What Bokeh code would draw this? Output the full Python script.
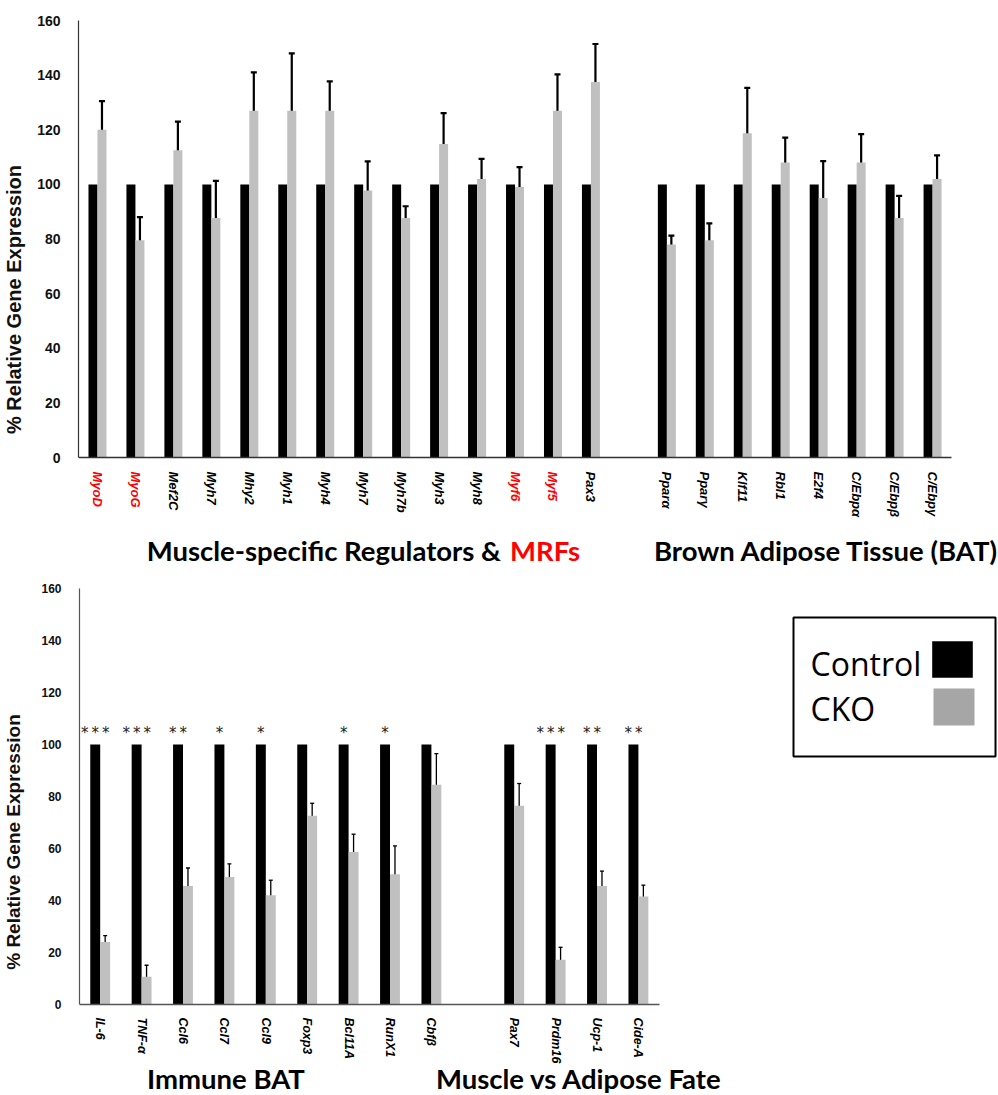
import math
from bokeh.plotting import figure
from bokeh.models import (Range1d, ColumnDataSource, Whisker, TeeHead, FixedTicker, LinearAxis)
from bokeh.layouts import column, row
from bokeh.embed import file_html
from bokeh.resources import INLINE
from bokeh.core.properties import value

# ---------------- data ----------------
y_ticks = [0, 20, 40, 60, 80, 100, 120, 140, 160]

muscle_genes = ["MyoD", "MyoG", "Mef2C", "Myh7", "Mhy2", "Myh1", "Myh4", "Myh7", "Myh7b",
                "Myh3", "Myh8", "Myf6", "Myf5", "Pax3"]
muscle_red = ["MyoD", "MyoG", "Myf6", "Myf5"]
muscle_control = [100] * 14
muscle_cko = [120, 79.5, 112.5, 87.7, 127, 127, 127, 97.8, 87.7, 114.8, 102, 99, 127, 137.5]
muscle_hi = [130.5, 88, 123, 101.3, 141, 148, 137.7, 108.4, 92, 126.1, 109.3, 106.3, 140.3, 151.4]
muscle_lo = [109, 70.6, 102, 73.9, 113.7, 106.2, 117.1, 87.7, 83.4, 103.4, 94.8, 92, 114.3, 124]

bat_genes = ["Ppar\u03b1", "Ppar\u03b3", "Klf11", "Rbl1", "E2f4", "C/Ebp\u03b1", "C/Ebp\u03b2", "C/Ebp\u03b3"]
bat_control = [100] * 8
bat_cko = [78, 79.5, 118.7, 108, 95, 108, 87.7, 102]
bat_hi = [81.2, 85.7, 135.3, 117.1, 108.5, 118.4, 95.8, 110.6]
bat_lo = [75, 72.5, 102, 100, 81.3, 97.5, 79.5, 93.8]

immune_genes = ["IL-6", "TNF-\u03b1", "Ccl6", "Ccl7", "Ccl9", "Foxp3", "Bcl11A", "RunX1", "Cbf\u03b2"]
immune_control = [100] * 9
immune_cko = [24, 10.7, 45.6, 49, 42, 72.6, 58.7, 50.1, 84.5]
immune_hi = [26.5, 15.1, 52.5, 54.1, 47.8, 77.4, 65.5, 61, 96.5]
immune_lo = [21.6, 6.1, 39.1, 43.7, 36.8, 68, 52, 39, 72.5]
immune_sig = ["***", "***", "**", "*", "*", "", "*", "*", ""]

fate_genes = ["Pax7", "Prdm16", "Ucp-1", "Cide-A"]
fate_control = [100] * 4
fate_cko = [76.4, 17.2, 45.6, 41.5]
fate_hi = [85, 22, 51.3, 45.9]
fate_lo = [67.6, 12.7, 40.2, 36.8]
fate_sig = ["", "***", "**", "**"]

series_names = ["Control", "CKO"]
y_title = "% Relative Gene Expression"

BLACK = "#000000"
GRAY = "#c0c0c0"
LEG_GRAY = "#a6a6a6"


def base_chart(width, height, left, top, x_end, y_start, tick_size, axis_color, title_size,
               title_standoff):
    p = figure(width=width, height=height, x_range=Range1d(0, x_end), y_range=Range1d(y_start, 160),
               output_backend="svg", toolbar_location=None, x_axis_location=None,
               min_border_left=left, min_border_right=0, min_border_top=top, min_border_bottom=0)
    p.outline_line_color = None
    p.grid.visible = False
    p.yaxis.bounds = (0, 160)
    p.yaxis.ticker = FixedTicker(ticks=y_ticks)
    p.yaxis.major_tick_line_color = None
    p.yaxis.minor_tick_line_color = None
    p.yaxis.axis_line_color = axis_color
    p.yaxis.axis_line_width = 1.2
    p.yaxis.major_label_text_font = "Liberation Sans"
    p.yaxis.major_label_text_font_style = "bold"
    p.yaxis.major_label_text_font_size = tick_size
    p.yaxis.major_label_text_color = "#111111"
    p.yaxis.major_label_standoff = 12
    p.yaxis.axis_label = y_title
    p.yaxis.axis_label_text_font = "Liberation Sans"
    p.yaxis.axis_label_text_font_style = "bold"
    p.yaxis.axis_label_text_font_size = title_size
    p.yaxis.axis_label_text_color = "#111111"
    p.yaxis.axis_label_standoff = title_standoff
    return p


def category_axis(p, ticks, names, color, n_slots, line_color, size, standoff):
    ax = LinearAxis(fixed_location=0, bounds=(0, n_slots),
                    ticker=FixedTicker(ticks=ticks, minor_ticks=[]),
                    major_label_overrides={t: n for t, n in zip(ticks, names)},
                    major_label_orientation="vertical",
                    major_tick_line_color=None, minor_tick_line_color=None,
                    axis_line_color=line_color, axis_line_width=1.5,
                    major_label_text_font="Liberation Sans",
                    major_label_text_font_style="bold italic",
                    major_label_text_font_size=size, major_label_text_color=color,
                    major_label_standoff=standoff)
    p.add_layout(ax, "below")
    return ax


def draw_bars(p, positions, control, cko, hi, lo, half, err_w, cap):
    cx = [q + 0.5 for q in positions]
    xs_c = [c - half / 2 for c in cx]
    xs_k = [c + half / 2 for c in cx]
    p.vbar(x=xs_c, top=control, bottom=0, width=half, fill_color=BLACK, line_color=None)
    p.vbar(x=xs_k, top=cko, bottom=0, width=half, fill_color=GRAY, line_color=None)
    src = ColumnDataSource(dict(x=xs_k, hi=hi, lo=lo))
    w = Whisker(base="x", upper="hi", lower="lo", source=src, line_color="black", line_width=err_w,
                upper_head=TeeHead(size=cap, line_width=err_w, line_color="black"),
                lower_head=TeeHead(size=cap, line_width=err_w, line_color="black"))
    p.add_layout(w)
    return cx, xs_c


def title_text(p, x, y, text, size, color, align="left"):
    p.text(x=[x], y=[y], text=[text], text_align=align, text_baseline="middle",
           text_font=value("Lato"), text_font_style="bold", text_font_size=size, text_color=color)


# ---------------- top chart ----------------
# frame: left 77 px, top 20 px; 38 px per category slot, 2.73125 px per %
TOP_W, TOP_H = 998, 578
top = base_chart(TOP_W, TOP_H, 77, 20, (TOP_W - 77) / 38.0, 160 - (TOP_H - 20) / 2.73125,
                 "14px", "#333333", "20px", 9)
m_pos = list(range(len(muscle_genes)))
b_pos = [len(muscle_genes) + 1 + i for i in range(len(bat_genes))]
n_top = len(muscle_genes) + 1 + len(bat_genes)
m_cx, _ = draw_bars(top, m_pos, muscle_control, muscle_cko, muscle_hi, muscle_lo, 0.237, 2.2, 6)
b_cx, _ = draw_bars(top, b_pos, bat_control, bat_cko, bat_hi, bat_lo, 0.237, 2.2, 6)
all_top_x = m_cx + b_cx
all_top_names = muscle_genes + bat_genes
black_idx = [i for i, g in enumerate(all_top_names) if not (i < len(muscle_genes) and g in muscle_red)]
red_idx = [i for i, g in enumerate(all_top_names) if i < len(muscle_genes) and g in muscle_red]
category_axis(top, [all_top_x[i] for i in black_idx], [all_top_names[i] for i in black_idx],
              "#000000", n_top, "#333333", "13px", 8)
category_axis(top, [all_top_x[i] for i in red_idx], [all_top_names[i] for i in red_idx],
              "#ff0000", n_top, None, "13px", 8)
title_text(top, 11.13, -34, "Muscle-specific Regulators &", "27.5px", "black", align="right")
title_text(top, 11.37, -34, "MRFs", "27.5px", "#ff0000")
title_text(top, 15.16, -34, "Brown Adipose Tissue (BAT)", "27.5px", "black")

# ---------------- bottom chart ----------------
# frame: left 74 px, top 10 px; 41.71 px per slot, 2.6 px per %
BOT_W, BOT_H, BOT_TOP = 748, 517, 10
bot = base_chart(BOT_W, BOT_H, 74, BOT_TOP, (BOT_W - 74) / 41.71, 160 - (BOT_H - BOT_TOP) / 2.6,
                 "12px", "#555555", "19px", 14)
i_pos = list(range(len(immune_genes)))
f_pos = [len(immune_genes) + 1 + i for i in range(len(fate_genes))]
n_bot = len(immune_genes) + 1 + len(fate_genes)
i_cx, i_xc = draw_bars(bot, i_pos, immune_control, immune_cko, immune_hi, immune_lo, 0.24, 1.3, 4)
f_cx, f_xc = draw_bars(bot, f_pos, fate_control, fate_cko, fate_hi, fate_lo, 0.24, 1.3, 4)
category_axis(bot, i_cx + f_cx, immune_genes + fate_genes, "#000000", n_bot, "#555555", "12.5px", 7)

sig_src = ColumnDataSource(dict(x=i_xc + f_xc, y=[c + 4.5 for c in immune_control + fate_control],
                                t=["\u2009".join(list(s)) for s in immune_sig + fate_sig]))
bot.text(x="x", y="y", text="t", source=sig_src, text_align="center", text_baseline="alphabetic",
         text_font=value("DejaVu Sans"), text_font_size="15px", text_color="#222222")
title_text(bot, 1.63, -28.5, "Immune BAT", "27.5px", "black")
title_text(bot, 8.61, -28.5, "Muscle vs Adipose Fate", "27.5px", "black")

# ---------------- legend ----------------
# frame aligned with the bottom chart frame (top border 10 px); y measured from page y 588
LEG_W = 998 - BOT_W
LEG_FH = BOT_H - BOT_TOP
leg = figure(width=LEG_W, height=BOT_H, x_range=Range1d(0, LEG_W), y_range=Range1d(LEG_FH, 0),
             output_backend="svg", toolbar_location=None, min_border_left=0, min_border_right=0,
             min_border_top=BOT_TOP, min_border_bottom=0,
             x_axis_location=None, y_axis_location=None)
leg.outline_line_color = None
leg.grid.visible = False
leg.quad(left=[45], right=[247], top=[29], bottom=[168], fill_color=None, line_color="black",
         line_width=2)
leg.quad(left=[183.7, 185], right=[224.3, 226], top=[52.7, 100], bottom=[89.3, 137],
         fill_color=[BLACK, LEG_GRAY], line_color=None)
leg.text(x=[62, 62], y=[75, 120], text=series_names, text_align="left", text_baseline="middle",
         text_font=value("Open Sans"), text_font_size="32px", text_color="black")

layout = column(top, row(bot, leg))
open("out.html", "w").write(file_html(layout, INLINE))
